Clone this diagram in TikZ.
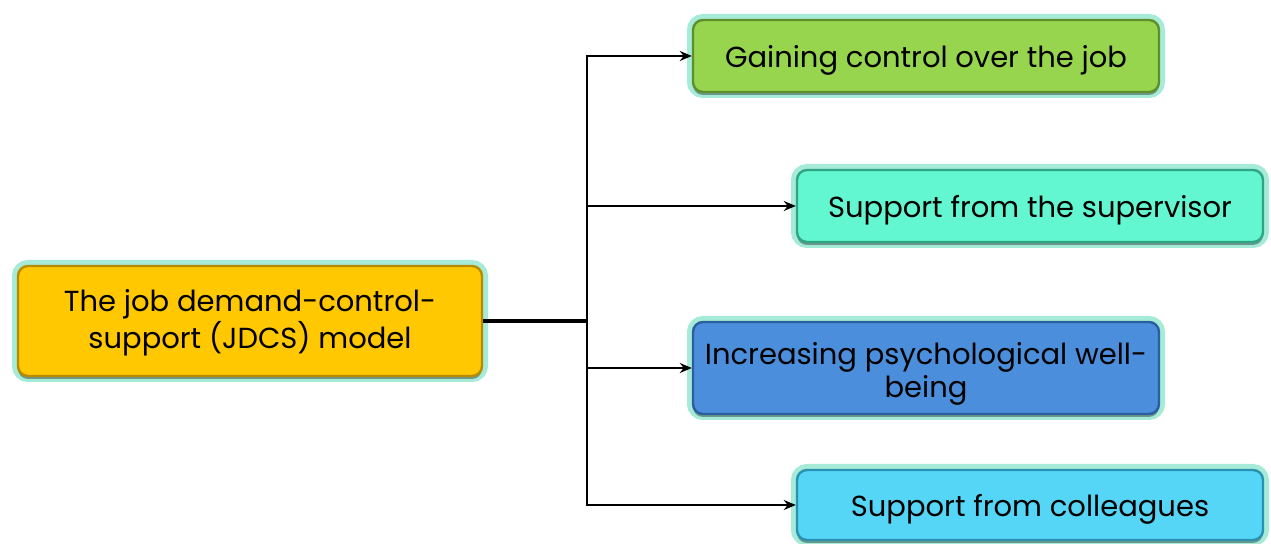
\documentclass[tikz,border=0pt]{standalone}
\usepackage{fontspec}
\setmainfont{Poppins}
\usetikzlibrary{arrows.meta,shadows}
\definecolor{glow}{HTML}{7FE3C6}
\definecolor{cMain}{HTML}{FFC800}
\definecolor{cMainD}{HTML}{B88A00}
\definecolor{cGreen}{HTML}{97D54E}
\definecolor{cGreenD}{HTML}{5E8F2A}
\definecolor{cSup}{HTML}{62F7D0}
\definecolor{cSupD}{HTML}{2FA585}
\definecolor{cBlue}{HTML}{4A8EDC}
\definecolor{cBlueD}{HTML}{2B5E9E}
\definecolor{cCol}{HTML}{55D6F7}
\definecolor{cColD}{HTML}{2A92B0}
\newcommand{\lbl}[2][0pt]{\raisebox{#1}[\height][\depth]{\begin{tabular}{@{}c@{}}#2\end{tabular}}}
\tikzset{
  x=0.5pt, y=-0.5pt,
  box/.style={rounded corners=5pt, line width=1.2pt,
    font=\fontsize{14.5}{16.5}\selectfont, text=black, inner sep=0pt,
    preaction={draw=glow, line width=6pt, opacity=0.7, rounded corners=6pt},
    drop shadow={shadow xshift=0pt, shadow yshift=-1.5pt, opacity=0.35, fill=black}},
  arr/.style={-{Stealth[length=6pt,width=5pt]}, line width=1pt, black},
}
\begin{document}
\begin{tikzpicture}
\useasboundingbox (0,0) rectangle (1271,544);
\node[box, fill=cMain, draw=cMainD, minimum width=232pt, minimum height=55pt] (main) at (250,321)
  {\lbl[-1pt]{The job demand-control-\\support (JDCS) model}};
\node[box, fill=cGreen, draw=cGreenD, minimum width=233pt, minimum height=36pt] (g) at (926,56)
  {\lbl[-2.5pt]{Gaining control over the job}};
\node[box, fill=cSup, draw=cSupD, minimum width=233pt, minimum height=36pt] (s) at (1030,206)
  {\lbl[-2.5pt]{Support from the supervisor}};
\node[box, fill=cBlue, draw=cBlueD, minimum width=233pt, minimum height=46pt] (b) at (926,368)
  {\lbl[-3pt]{Increasing psychological well-\\being}};
\node[box, fill=cCol, draw=cColD, minimum width=233pt, minimum height=35pt] (c) at (1030,505)
  {\lbl[-2.5pt]{Support from colleagues}};
\coordinate (t) at (587,321);
\draw[line width=1.6pt] (main.east) -- (t);
\draw[arr] (t) |- (g.west);
\draw[arr] (t) |- (s.west);
\draw[arr] (t) |- (b.west);
\draw[arr] (t) |- (c.west);
\end{tikzpicture}
\end{document}
